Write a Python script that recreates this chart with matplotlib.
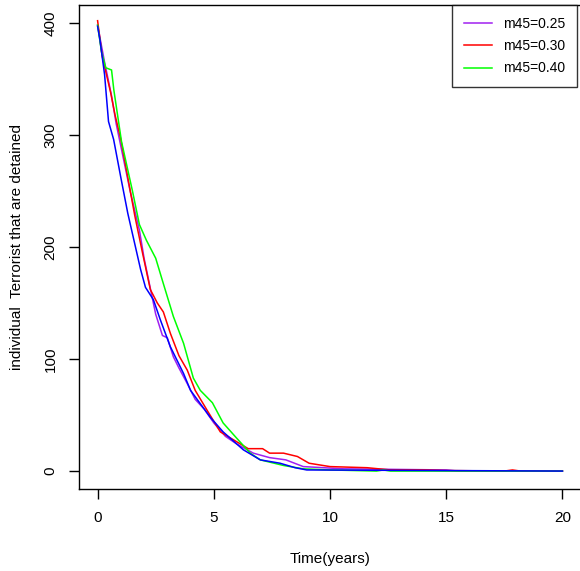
import numpy as np
import matplotlib
matplotlib.use("Agg")
import matplotlib.pyplot as plt

plt.rcParams['font.family'] = ['Liberation Sans', 'DejaVu Sans']

# values (time in years, number detained)
t_purple = [0, 0.3, 0.6, 0.8, 1.0, 1.4, 1.8, 2.0, 2.3, 2.5, 2.79, 3.0, 3.26, 3.5, 3.86, 4.2, 4.6,
            5.0, 5.5, 6.0, 6.7, 7.4, 8.1, 8.85, 10.6, 15.0, 15.5, 20]
y_purple = [398, 365, 335, 310, 290, 250, 215, 190, 160, 140, 121, 119, 102, 92, 78, 64, 55,
            43, 31, 24, 16, 12, 10, 4, 2, 1, 0, 0]

t_red = [0, 0.2, 0.56, 0.75, 1.0, 1.3, 1.6, 1.93, 2.27, 2.57, 2.83, 3.13, 3.5, 3.86, 4.2, 4.72,
         5.28, 6.0, 6.48, 7.1, 7.4, 8.0, 8.6, 9.1, 10.0, 11.6, 12.6, 14.0, 15.0, 17.5, 17.85, 18.2, 20]
y_red = [402, 370, 338, 318, 296, 262, 228, 195, 162, 150, 142, 123, 103, 90, 72, 54,
         35, 26, 20, 20, 16, 16, 13, 7, 4, 3, 1, 1, 0.5, 0, 1, 0, 0]

t_green = [0, 0.17, 0.35, 0.6, 0.7, 1.03, 1.5, 1.8, 2.1, 2.5, 2.79, 3.26, 3.7, 4.12, 4.42, 4.94,
           5.4, 6.0, 6.57, 7.0, 7.4, 8.0, 8.85, 10.0, 12.0, 12.3, 12.6, 20]
y_green = [398, 374, 360, 358, 340, 294, 250, 220, 206, 190, 170, 138, 114, 83, 72, 61,
           43, 29, 16, 10, 8, 5, 2, 1, 0, 1, 0, 0]

t_blue = [0, 0.1, 0.3, 0.47, 0.69, 1.0, 1.3, 1.63, 1.85, 2.06, 2.4, 2.7, 3.13, 3.7, 4.0, 4.85,
          5.4, 6.27, 7.0, 7.85, 8.5, 9.0, 20]
y_blue = [397, 385, 354, 312, 296, 262, 230, 200, 180, 164, 153, 135, 111, 87, 72, 48,
          35, 19, 10, 7, 3, 1, 0]

fig = plt.figure(figsize=(5.8, 5.71), dpi=100)
ax = fig.add_axes([79 / 580, 82 / 571, 502 / 580, 484 / 571])

l1, = ax.plot(t_purple, y_purple, color='#A020F0', lw=1.1, label='m45=0.25')
l2, = ax.plot(t_red, y_red, color='#FF0000', lw=1.1, label='m45=0.30')
l3, = ax.plot(t_green, y_green, color='#00FF00', lw=1.1, label='m45=0.40')
ax.plot(t_blue, y_blue, color='#0000FF', lw=1.1)

ax.set_xlim(-0.8, 20.8)
ax.set_ylim(-16, 416)
ax.set_xticks([0, 5, 10, 15, 20])
ax.set_yticks([0, 100, 200, 300, 400])
ax.tick_params(direction='out', length=7.5, width=1, labelsize=11, pad=8)
plt.setp(ax.get_yticklabels(), rotation=90, va='center')
for s in ax.spines.values():
    s.set_linewidth(1)

ax.set_xlabel('Time(years)', fontsize=11, labelpad=20)
ax.set_ylabel('individual  Terrorist that are detained', fontsize=11, labelpad=14)

leg = ax.legend(handles=[l1, l2, l3], loc='upper left',
                bbox_to_anchor=(452 / 580, 566 / 571), bbox_transform=fig.transFigure,
                fontsize=10, frameon=True, fancybox=False, borderaxespad=0,
                handlelength=2.0, handletextpad=0.85, labelspacing=0.6, borderpad=0.85)
leg.get_frame().set_edgecolor('black')
leg.get_frame().set_linewidth(1)

fig.savefig('out.png', dpi=100)
